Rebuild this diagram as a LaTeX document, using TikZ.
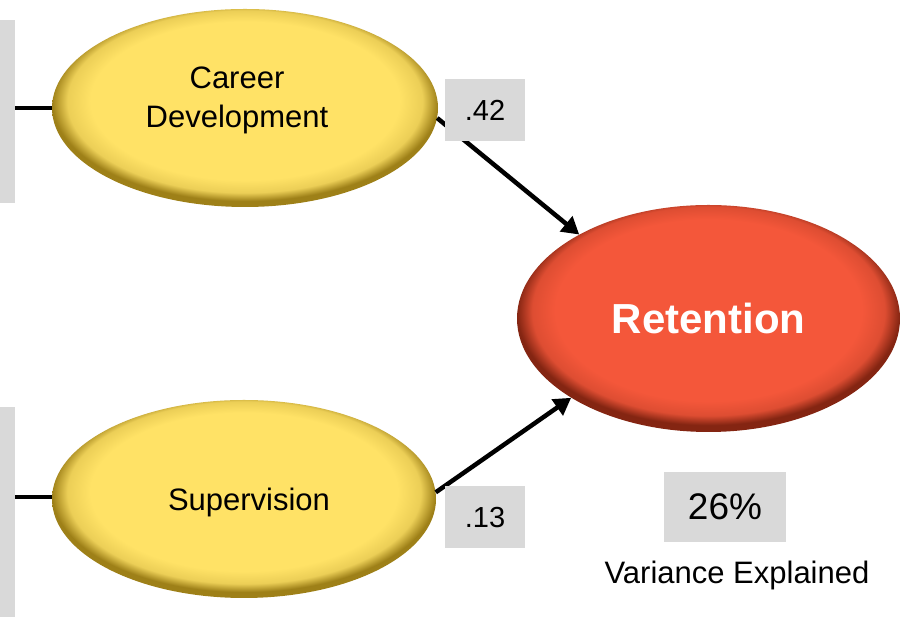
\documentclass[tikz,border=0pt]{standalone}
\usepackage{fontspec}
\setmainfont{Liberation Sans}
\usetikzlibrary{shapes.geometric,arrows.meta}
\definecolor{yel}{HTML}{FFE266}
\definecolor{yeldark}{HTML}{9E8018}
\definecolor{redin}{HTML}{F4573A}
\definecolor{reddark}{HTML}{842512}
\definecolor{boxgray}{HTML}{D9D9D9}
\pgfdeclareradialshading{yelball}{\pgfpoint{0bp}{3bp}}{color(0bp)=(yel); color(20bp)=(yel); color(23bp)=(yel!80!yeldark); color(25bp)=(yeldark); color(50bp)=(yeldark)}
\pgfdeclareradialshading{redball}{\pgfpoint{0bp}{3bp}}{color(0bp)=(redin); color(20bp)=(redin); color(23bp)=(redin!80!reddark); color(25bp)=(reddark); color(50bp)=(reddark)}
\tikzset{
  yelnode/.style={ellipse, inner sep=0pt, minimum width=386pt, minimum height=198pt, shading=yelball},
  yeltext/.style={align=center, inner sep=0pt, font=\fontsize{31}{39}\selectfont},
  rednode/.style={ellipse, inner sep=0pt, minimum width=383pt, minimum height=227pt, shading=redball, text=white, font=\fontsize{42}{50}\selectfont\bfseries},
  sidebox/.style={rectangle, fill=boxgray, inner sep=0pt, minimum width=15pt, anchor=south west},
  coefbox/.style={rectangle, fill=boxgray, inner sep=0pt, minimum width=80pt, minimum height=62pt, font=\fontsize{29}{35}\selectfont},
  link/.style={line width=4.5pt, black},
  path arrow/.style={line width=4.5pt, black, -{Triangle[length=17pt,width=19pt]}}
}
\begin{document}
\begin{tikzpicture}[x=1pt,y=1pt]
\useasboundingbox (0,0) rectangle (908,617);
% side boxes
\node[sidebox, minimum height=183pt] (sbtop) at (0,414) {};
\node[sidebox, minimum height=210pt] (sbbot) at (0,0) {};
% ellipses
\node[yelnode] (cd) at (245,509) {};
\node[yeltext] (cdtext) at ([xshift=-8pt,yshift=8pt]cd.center) {Career\\Development};
\node[yelnode, minimum width=384pt] (sup) at (244,118) {};
\node[yeltext] (suptext) at ([xshift=5pt,yshift=-3pt]sup.center) {Supervision};
\node[rednode] (ret) at (708.5,298.5) {Retention};
% left links
\draw[link] (sbtop.east |- cd.west) -- (cd.west);
\draw[link] ([yshift=2pt]sbbot.east |- sup.west) -- ([yshift=2pt]sup.west);
% paths
\draw[path arrow] (cd.-3) -- (ret.147);
\draw[path arrow] (sup.2.5) -- (ret.210);
% coefficients
\node[coefbox] (c42) at (485,507) {.42};
\node[coefbox] (c13) at (485,99.5) {.13};
\node[coefbox, minimum width=122pt, minimum height=70pt, font=\fontsize{37}{44}\selectfont] (r2) at (725,110) {26\%};
\node[font=\fontsize{31}{38}\selectfont, inner sep=0pt] (ve) at (737,42) {Variance Explained};
\end{tikzpicture}
\end{document}
